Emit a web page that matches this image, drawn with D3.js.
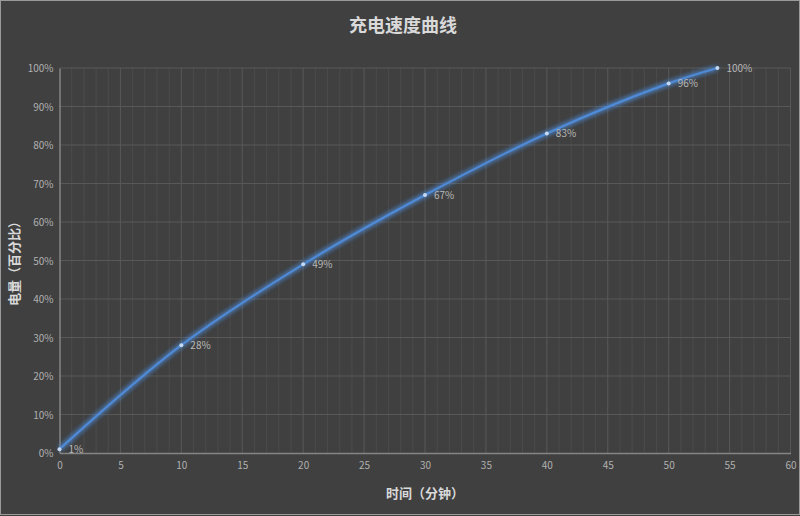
<!DOCTYPE html>
<html><head><meta charset="utf-8">
<script src="https://cdn.jsdelivr.net/npm/d3@7"></script>
<style>
html,body{margin:0;padding:0;background:#404040;}
svg{display:block;}
</style></head>
<body>
<svg id="c" width="800" height="516"></svg>
<script>
const minutes = [0, 10, 20, 30, 40, 50, 54];
const charge = [1, 28, 49, 67, 83, 96, 100];
const xTicks = [0, 5, 10, 15, 20, 25, 30, 35, 40, 45, 50, 55, 60];
const yTicks = [0, 10, 20, 30, 40, 50, 60, 70, 80, 90, 100];
const title = "充电速度曲线";
const xTitle = "时间（分钟）";
const yTitle = "电量（百分比）";

const W = 800, H = 516;
const m = {l: 59.5, r: 9.5, t: 68, b: 63};
const svg = d3.select("#c");
const font = "'Noto Sans CJK SC','Microsoft YaHei',sans-serif";

svg.append("rect").attr("x",0.5).attr("y",0.5).attr("width",W-1).attr("height",H-2)
  .attr("fill","#404040").attr("stroke","#9a9a9a").attr("stroke-width",1);

const x = d3.scaleLinear().domain([0,60]).range([m.l, W-m.r]);
const y = d3.scaleLinear().domain([0,100]).range([H-m.b, m.t]);

const defs = svg.append("defs");
const f = defs.append("filter").attr("id","glow").attr("x","-20%").attr("y","-20%").attr("width","140%").attr("height","140%");
f.append("feGaussianBlur").attr("in","SourceGraphic").attr("stdDeviation",2.8).attr("result","b");
const fm = f.append("feMerge");
fm.append("feMergeNode").attr("in","b");
fm.append("feMergeNode").attr("in","b");
fm.append("feMergeNode").attr("in","SourceGraphic");

// minor vertical gridlines
const g = svg.append("g");
g.selectAll("line.minor").data(d3.range(1,60).filter(v=>v%5!==0)).join("line")
  .attr("x1",d=>x(d)).attr("x2",d=>x(d)).attr("y1",y(100)).attr("y2",y(0))
  .attr("stroke","#4b4b4b").attr("stroke-width",1);
// major vertical
g.selectAll("line.vmaj").data(xTicks.slice(1)).join("line")
  .attr("x1",d=>x(d)).attr("x2",d=>x(d)).attr("y1",y(100)).attr("y2",y(0))
  .attr("stroke","#585858").attr("stroke-width",1);
// horizontal major
g.append("g").selectAll("line").data(yTicks.slice(1)).join("line")
  .attr("x1",x(0)).attr("x2",x(60)).attr("y1",d=>y(d)).attr("y2",d=>y(d))
  .attr("stroke","#585858").attr("stroke-width",1);

// axes
const xAxis = d3.axisBottom(x).tickValues(xTicks).tickSize(0).tickPadding(9);
const yAxis = d3.axisLeft(y).tickValues(yTicks).tickSize(0).tickPadding(6).tickFormat(d=>d+"%");
const gx = svg.append("g").attr("transform",`translate(0,${y(0)})`).call(xAxis);
const gy = svg.append("g").attr("transform",`translate(${x(0)},0)`).call(yAxis);
[gx,gy].forEach(a=>{
  a.select(".domain").attr("stroke","#858585").attr("stroke-width",1.5);
  a.selectAll("text").attr("fill","#b0b0b0").style("font-family",font).style("font-size","10px");
});
gy.selectAll("text").attr("dy","0.35em");

// line
const line = d3.line().x((d,i)=>x(minutes[i])).y(d=>y(d)).curve(d3.curveCatmullRom.alpha(0.5));
svg.append("path").datum(charge).attr("d",line).attr("fill","none")
  .attr("stroke","#4f8ad6").attr("stroke-width",2.2).attr("filter","url(#glow)");

svg.append("g").selectAll("circle").data(charge).join("circle")
  .attr("cx",(d,i)=>x(minutes[i])).attr("cy",d=>y(d)).attr("r",2)
  .attr("fill","#c5d9f1");

svg.append("g").selectAll("text").data(charge).join("text")
  .attr("x",(d,i)=>x(minutes[i])+9).attr("y",d=>y(d)+4)
  .attr("fill","#b8b8b8").style("font-family",font).style("font-size","10px")
  .text(d=>d+"%");

// titles
svg.append("text").attr("x",403).attr("y",32).attr("text-anchor","middle")
  .attr("fill","#d9d9d9").style("font-family",font).style("font-size","18px").style("font-weight","bold")
  .text(title);
svg.append("text").attr("x",(x(0)+x(60))/2).attr("y",498).attr("text-anchor","middle")
  .attr("fill","#d9d9d9").style("font-family",font).style("font-size","13px").style("font-weight","bold")
  .text(xTitle);
svg.append("text").attr("transform",`translate(19,${(y(0)+y(100))/2}) rotate(-90)`).attr("text-anchor","middle")
  .attr("fill","#d9d9d9").style("font-family",font).style("font-size","13px").style("font-weight","bold")
  .text(yTitle);
</script>
</body></html>
